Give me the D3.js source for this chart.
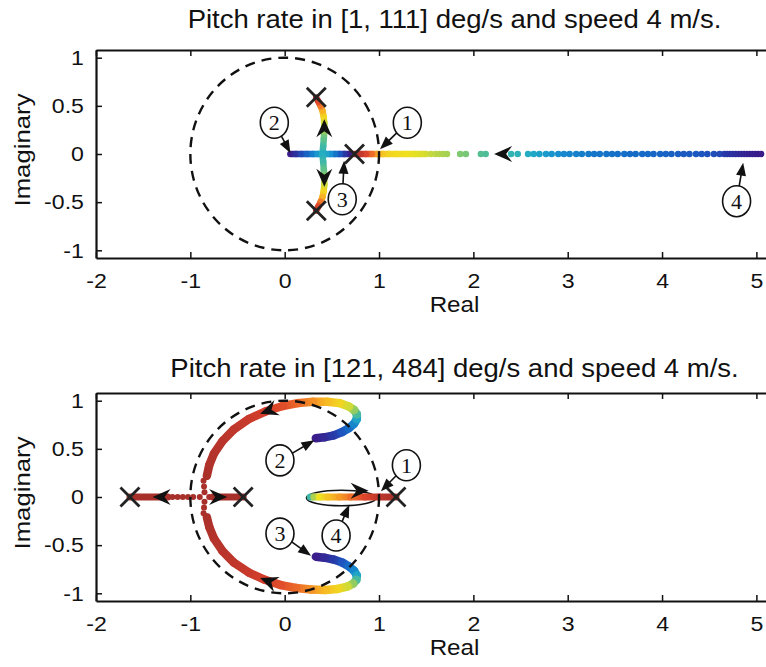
<!DOCTYPE html>
<html>
<head>
<meta charset="utf-8">
<title>Root locus, pitch rate sweep</title>
<style>
	body { margin: 0; background: #fff; }
	svg { display: block; font-family: "Liberation Sans", Arial, Helvetica, sans-serif; }
	.axis path, .axis line { stroke: #111; }
	.axis path { stroke-width: 2.2; }
	.axis line { stroke-width: 1.5; }
	.axis text { fill: #111; font-size: 21px; }
</style>
<script src="https://d3js.org/d3.v7.min.js"></script>
</head>
<body>
<script>
	var xTicks = [-2, -1, 0, 1, 2, 3, 4, 5];
	var yTicks = [-1, -0.5, 0, 0.5, 1];

	var topTitle = "Pitch rate in [1, 111] deg/s and speed 4 m/s.";
	var bottomTitle = "Pitch rate in [121, 484] deg/s and speed 4 m/s.";
	var topRates = [1, 111];
	var bottomRates = [121, 484];

	// points are [real, imaginary, pitch rate]
	var topBranch2 = [[0.06, 0, 1], [0.12, 0, 8], [0.18, 0, 16], [0.24, 0, 24], [0.30, 0, 32], [0.35, 0, 40], [0.40, 0, 47],
		[0.408, 0.08, 52], [0.415, 0.16, 57], [0.42, 0.24, 63], [0.42, 0.32, 70], [0.413, 0.39, 77], [0.40, 0.45, 84],
		[0.38, 0.50, 92], [0.357, 0.545, 100], [0.335, 0.585, 111]];
	var topBranch3 = [[0.68, 0, 1], [0.63, 0, 10], [0.58, 0, 20], [0.53, 0, 30], [0.48, 0, 38], [0.44, 0, 44], [0.40, 0, 47],
		[0.408, -0.08, 52], [0.415, -0.16, 57], [0.42, -0.24, 63], [0.42, -0.32, 70], [0.413, -0.39, 77], [0.40, -0.45, 84],
		[0.38, -0.50, 92], [0.357, -0.545, 100], [0.335, -0.585, 111]];
	var topBranch4Line = [[1.50, 0, 71], [1.38, 0, 73], [1.28, 0, 75], [1.18, 0, 76], [1.10, 0, 77], [1.04, 0, 80],
		[0.98, 0, 86], [0.92, 0, 94], [0.86, 0, 101], [0.80, 0, 106], [0.74, 0, 111]];
	var topBranch4Dots = [[1.55, 0, 69], [1.60, 0, 68], [1.64, 0, 67], [1.68, 0, 66], [1.72, 0, 65], [1.86, 0, 61], [1.92, 0, 60],
		[2.08, 0, 56], [2.13, 0, 55], [2.40, 0, 50], [2.47, 0, 49],
		[2.58, 0, 47], [2.64, 0, 45], [2.70, 0, 43], [2.77, 0, 41], [2.83, 0, 39], [2.90, 0, 37], [2.96, 0, 35], [3.02, 0, 34],
		[3.09, 0, 33], [3.15, 0, 32], [3.22, 0, 31], [3.28, 0, 30], [3.34, 0, 30], [3.41, 0, 29], [3.47, 0, 29], [3.53, 0, 28],
		[3.60, 0, 28], [3.66, 0, 27], [3.72, 0, 27], [3.79, 0, 26], [3.85, 0, 26], [3.91, 0, 25], [3.98, 0, 25], [4.04, 0, 24],
		[4.10, 0, 23], [4.17, 0, 22], [4.23, 0, 21], [4.29, 0, 21], [4.36, 0, 20], [4.42, 0, 19], [4.48, 0, 18], [4.55, 0, 17],
		[4.61, 0, 16], [4.66, 0, 12], [4.69, 0, 11], [4.72, 0, 10], [4.75, 0, 9], [4.78, 0, 8], [4.81, 0, 7], [4.84, 0, 6],
		[4.87, 0, 5], [4.90, 0, 4], [4.93, 0, 3], [4.96, 0, 3], [4.99, 0, 2], [5.02, 0, 1], [5.05, 0, 1]];
	var topPoles = [[0.74, 0], [0.335, 0.59], [0.335, -0.59]];
	// [tip re, tip im, tail re, tail im]
	var topArrows = [[2.22, 0, 2.40, 0], [0.42, 0.36, 0.42, 0.18], [0.42, -0.34, 0.42, -0.16]];
	// [label, circle re, circle im, tip re, tip im]
	var topLabels = [["1", 1.30, 0.325, 1.01, 0.05], ["2", -0.11, 0.325, 0.06, 0.01],
		["3", 0.61, -0.47, 0.63, -0.07], ["4", 4.79, -0.49, 4.86, -0.09]];

	var bottomArcUp = [[0.33, 0.61, 121], [0.42, 0.62, 135], [0.52, 0.64, 155], [0.61, 0.675, 180], [0.68, 0.715, 205],
		[0.735, 0.76, 232], [0.765, 0.81, 262], [0.765, 0.86, 295], [0.735, 0.905, 325], [0.68, 0.94, 350],
		[0.58, 0.975, 372], [0.45, 0.99, 390], [0.30, 0.99, 410], [0.14, 0.975, 430], [-0.02, 0.945, 445],
		[-0.20, 0.89, 456], [-0.38, 0.81, 464], [-0.54, 0.70, 470], [-0.66, 0.58, 474], [-0.75, 0.45, 477],
		[-0.80, 0.33, 480], [-0.825, 0.22, 482]];
	var bottomArcDown = [[0.33, -0.62, 121], [0.42, -0.63, 135], [0.52, -0.65, 155], [0.61, -0.68, 180], [0.68, -0.72, 205],
		[0.735, -0.765, 232], [0.765, -0.815, 262], [0.76, -0.86, 295], [0.725, -0.90, 325], [0.665, -0.93, 350],
		[0.56, -0.955, 372], [0.43, -0.965, 390], [0.28, -0.96, 410], [0.12, -0.945, 430], [-0.04, -0.915, 445],
		[-0.21, -0.86, 456], [-0.38, -0.785, 464], [-0.54, -0.68, 470], [-0.66, -0.56, 474], [-0.75, -0.43, 477],
		[-0.80, -0.31, 480], [-0.825, -0.21, 482]];
	var bottomRealLeft = [[-1.24, 0, 484], [-1.64, 0, 484]];
	var bottomRealRight = [[-0.76, 0, 484], [-0.44, 0, 484]];
	var bottomBranch4 = [[0.27, 0, 290], [0.31, 0, 335], [0.37, 0, 362], [0.46, 0, 385], [0.58, 0, 405], [0.70, 0, 425],
		[0.85, 0, 450], [1.00, 0, 470], [1.18, 0, 484]];
	var bottomDots = [[-1.19, 0, 484], [-1.135, 0, 484], [-1.08, 0, 484], [-1.025, 0, 484], [-0.97, 0, 484], [-0.90, 0, 484],
		[-0.80, 0, 484], [-0.86, 0.17, 483], [-0.855, 0.11, 483], [-0.85, 0.05, 484],
		[-0.85, -0.05, 484], [-0.855, -0.11, 483], [-0.86, -0.17, 483]];
	var bottomLoop = [0.60, -0.01, 0.37, 0.08];
	var bottomPoles = [[-1.64, 0], [-0.44, 0], [1.18, 0]];
	var bottomArrows = [[-1.40, 0, -1.25, 0], [-0.61, 0, -0.76, 0], [-0.26, 0.865, -0.09, 0.925],
		[-0.26, -0.84, -0.09, -0.905], [0.89, 0.065, 0.76, 0.065]];
	var bottomLabels = [["1", 1.29, 0.33, 1.02, 0.06], ["2", -0.05, 0.38, 0.315, 0.59],
		["3", -0.05, -0.38, 0.28, -0.61], ["4", 0.545, -0.40, 0.685, -0.08]];

	var colourStops = ["#3a1c8a", "#2a35a4", "#1d56c0", "#1470c8", "#1891d0", "#22adc4", "#55bf92",
		"#a6d153", "#efe21e", "#f8b724", "#f07427", "#da3f2b", "#a8302b"];

	var svg = d3.select("body").append("svg")
			.attr("width", 766)
			.attr("height", 667);

	svg.append("rect").attr("width", 766).attr("height", 667).attr("fill", "#fff");

	var defs = svg.append("defs");
	var gradCount = 0;

	drawPanel({top: 50, title: topTitle, titleY: 28, rates: topRates,
		lines: [{pts: topBranch4Line, w: 6.5}, {pts: topBranch2, w: 6.5}, {pts: topBranch3, w: 6.5}],
		dots: topBranch4Dots, dotR: 3.3, loop: null,
		poles: topPoles, arrows: topArrows, labels: topLabels});

	drawPanel({top: 393, title: bottomTitle, titleY: 377, rates: bottomRates,
		lines: [{pts: bottomArcUp, w: 8.5}, {pts: bottomArcDown, w: 8.5}, {pts: bottomRealLeft, w: 7},
			{pts: bottomRealRight, w: 7}, {pts: bottomBranch4, w: 7}],
		dots: bottomDots, dotR: 3, loop: bottomLoop,
		poles: bottomPoles, arrows: bottomArrows, labels: bottomLabels});

	function drawPanel(p) {
		var height = 208;
		var x = d3.scaleLinear().domain([-2, 5.6]).range([96, 813]);
		var y = d3.scaleLinear().domain([-1.08, 1.08]).range([p.top + height, p.top]);
		var colour = d3.scaleSequential(d3.piecewise(d3.interpolateRgb, colourStops)).domain(p.rates);
		var g = svg.append("g");
		var cx = (x.range()[0] + x.range()[1]) / 2;

		// axes box with inward ticks
		var fmt = function(d) { return String(d); };
		g.append("g").attr("class", "axis")
			.attr("transform", "translate(0," + (p.top + height) + ")")
			.call(d3.axisBottom(x).tickValues(xTicks).tickSize(-6).tickSizeOuter(0).tickPadding(15).tickFormat(fmt));
		g.append("g").attr("class", "axis")
			.attr("transform", "translate(0," + p.top + ")")
			.call(d3.axisTop(x).tickValues(xTicks).tickSize(-6).tickSizeOuter(0).tickFormat(""));
		g.append("g").attr("class", "axis")
			.attr("transform", "translate(" + x.range()[0] + ",0)")
			.call(d3.axisLeft(y).tickValues(yTicks).tickSize(-6).tickSizeOuter(0).tickPadding(11).tickFormat(fmt));
		g.selectAll(".axis").attr("font-size", null).attr("font-family", null);
		g.selectAll(".axis text").attr("transform", "scale(1.1,1)");

		g.append("text")
			.attr("transform", "translate(" + cx + "," + p.titleY + ") scale(1.1,1)")
			.attr("text-anchor", "middle")
			.attr("font-size", 25)
			.attr("fill", "#111")
			.text(p.title);

		g.append("text")
			.attr("transform", "translate(" + cx + "," + (p.top + height + 54) + ") scale(1.1,1)")
			.attr("text-anchor", "middle")
			.attr("font-size", 22)
			.attr("fill", "#111")
			.text("Real");

		g.append("text")
			.attr("transform", "translate(30," + (y(0) - 4) + ") rotate(-90) scale(1.12,1)")
			.attr("text-anchor", "middle")
			.attr("font-size", 23)
			.attr("fill", "#111")
			.text("Imaginary");

		if (p.loop) {
			g.append("ellipse")
				.attr("cx", x(p.loop[0])).attr("cy", y(p.loop[1]))
				.attr("rx", x(p.loop[2]) - x(0)).attr("ry", y(0) - y(p.loop[3]))
				.attr("fill", "none").attr("stroke", "#111").attr("stroke-width", 1.5);
		}

		// locus branches, coloured by pitch rate
		p.lines.forEach(function(line) {
			d3.pairs(line.pts).forEach(function(pair) {
				var a = pair[0], b = pair[1];
				var id = "seg" + (gradCount++);
				var grad = defs.append("linearGradient").attr("id", id)
					.attr("gradientUnits", "userSpaceOnUse")
					.attr("x1", x(a[0])).attr("y1", y(a[1]))
					.attr("x2", x(b[0]) + 0.01).attr("y2", y(b[1]));
				grad.append("stop").attr("offset", 0).attr("stop-color", colour(a[2]));
				grad.append("stop").attr("offset", 1).attr("stop-color", colour(b[2]));
				g.append("line")
					.attr("x1", x(a[0])).attr("y1", y(a[1]))
					.attr("x2", x(b[0])).attr("y2", y(b[1]))
					.attr("stroke", "url(#" + id + ")")
					.attr("stroke-width", line.w)
					.attr("stroke-linecap", "round");
			});
		});

		g.selectAll(null).data(p.dots).join("circle")
			.attr("cx", function(d) { return x(d[0]); })
			.attr("cy", function(d) { return y(d[1]); })
			.attr("r", p.dotR)
			.attr("fill", function(d) { return colour(d[2]); });

		// dashed unit circle
		g.append("ellipse")
			.attr("cx", x(0)).attr("cy", y(0))
			.attr("rx", x(1) - x(0)).attr("ry", y(0) - y(1))
			.attr("fill", "none")
			.attr("stroke", "#111")
			.attr("stroke-width", 2.4)
			.attr("stroke-dasharray", "10,7");

		// direction arrowheads
		g.selectAll(null).data(p.arrows).join("path")
			.attr("d", "M0,0L-18,-8L-12,0L-18,8Z")
			.attr("fill", "#111")
			.attr("transform", function(d) {
				var ang = Math.atan2(y(d[1]) - y(d[3]), x(d[0]) - x(d[2])) * 180 / Math.PI;
				return "translate(" + x(d[0]) + "," + y(d[1]) + ") rotate(" + ang + ")";
			});

		// end poles
		g.selectAll(null).data(p.poles).join("path")
			.attr("d", "M-9.5,-9.5L9.5,9.5M-9.5,9.5L9.5,-9.5")
			.attr("stroke", "#222")
			.attr("stroke-width", 2.8)
			.attr("fill", "none")
			.attr("transform", function(d) { return "translate(" + x(d[0]) + "," + y(d[1]) + ")"; });

		// numbered call-outs
		p.labels.forEach(function(d) {
			var cxp = x(d[1]), cyp = y(d[2]), tx = x(d[3]), ty = y(d[4]);
			var dx = tx - cxp, dy = ty - cyp, len = Math.sqrt(dx * dx + dy * dy);
			var ux = dx / len, uy = dy / len;
			var ang = Math.atan2(dy, dx) * 180 / Math.PI;
			g.append("line")
				.attr("x1", cxp + ux * 14).attr("y1", cyp + uy * 14)
				.attr("x2", tx - ux * 8).attr("y2", ty - uy * 8)
				.attr("stroke", "#111").attr("stroke-width", 1.6);
			g.append("path")
				.attr("d", "M0,0L-13,-5L-13,5Z")
				.attr("fill", "#111")
				.attr("transform", "translate(" + tx + "," + ty + ") rotate(" + ang + ")");
			g.append("ellipse")
				.attr("cx", cxp).attr("cy", cyp).attr("rx", 14).attr("ry", 15.5)
				.attr("fill", "#fff").attr("stroke", "#111").attr("stroke-width", 1.6);
			g.append("text")
				.attr("x", cxp).attr("y", cyp + 7.5)
				.attr("text-anchor", "middle")
				.attr("font-family", "'Liberation Serif', 'Times New Roman', serif")
				.attr("font-size", 22)
				.attr("fill", "#111")
				.text(d[0]);
		});
	}
</script>
</body>
</html>
